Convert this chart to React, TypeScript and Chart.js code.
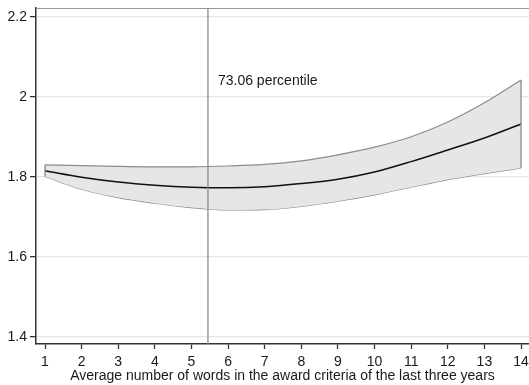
import React, { useEffect, useRef } from "react";
import { Chart, registerables } from "chart.js";

Chart.register(...registerables);

const xValues = [1, 2, 3, 4, 5, 6, 7, 8, 9, 10, 11, 12, 13, 14];
const meanValues = [1.815, 1.799, 1.787, 1.779, 1.774, 1.7725, 1.775, 1.783, 1.794, 1.812, 1.838, 1.867, 1.897, 1.932];
const upperValues = [1.83, 1.828, 1.826, 1.825, 1.825, 1.827, 1.831, 1.84, 1.855, 1.874, 1.9, 1.937, 1.985, 2.042];
const lowerValues = [1.801, 1.769, 1.748, 1.734, 1.723, 1.717, 1.718, 1.726, 1.739, 1.755, 1.774, 1.793, 1.808, 1.822];
const yTicks = [1.4, 1.6, 1.8, 2, 2.2];
const cutoff = 5.45;
const cutoffLabel = "73.06 percentile";
const xTitle = "Average number of words in the award criteria of the last three years";

const FONT = "'Liberation Sans', Arial, sans-serif";

export default function App() {
  const ref = useRef<HTMLCanvasElement | null>(null);
  useEffect(() => {
    if (!ref.current) return;
    const pts = (ys: number[]) => xValues.map((x, i) => ({ x, y: ys[i] }));
    const overlay = {
      id: "overlay",
      afterDatasetsDraw(chart: any) {
        const { ctx, chartArea, scales } = chart;
        const xs = scales.x;
        const ys = scales.y;
        ctx.save();
        // band end edges
        ctx.strokeStyle = "#8c8c8c";
        ctx.lineWidth = 1.3;
        const ends = [0, xValues.length - 1];
        ends.forEach((i) => {
          const ex = xs.getPixelForValue(xValues[i]);
          ctx.beginPath();
          ctx.moveTo(ex, ys.getPixelForValue(lowerValues[i]));
          ctx.lineTo(ex, ys.getPixelForValue(upperValues[i]));
          ctx.stroke();
        });
        // top frame line
        ctx.strokeStyle = "#9a9a9a";
        ctx.lineWidth = 1;
        ctx.beginPath();
        ctx.moveTo(chartArea.left, chartArea.top + 0.5);
        ctx.lineTo(chartArea.right, chartArea.top + 0.5);
        ctx.stroke();
        // cutoff line
        const px = xs.getPixelForValue(cutoff);
        ctx.strokeStyle = "#8a8a8a";
        ctx.lineWidth = 1.3;
        ctx.beginPath();
        ctx.moveTo(px, chartArea.top);
        ctx.lineTo(px, chartArea.bottom);
        ctx.stroke();
        ctx.fillStyle = "#1a1a1a";
        ctx.font = `14px ${FONT}`;
        ctx.textBaseline = "middle";
        ctx.textAlign = "left";
        ctx.fillText(cutoffLabel, px + 10, ys.getPixelForValue(2.04));
        ctx.restore();
      },
    };
    const chart = new Chart(ref.current, {
      type: "scatter",
      data: {
        datasets: [
          {
            label: "mean",
            data: pts(meanValues),
            showLine: true,
            borderColor: "#111111",
            borderWidth: 1.5,
            pointRadius: 0,
            cubicInterpolationMode: "monotone",
            fill: false,
            order: 0,
          },
          {
            label: "upper",
            data: pts(upperValues),
            showLine: true,
            borderWidth: 1.2,
            borderColor: "#8c8c8c",
            backgroundColor: "#e6e6e6",
            pointRadius: 0,
            cubicInterpolationMode: "monotone",
            fill: "+1",
            order: 2,
          },
          {
            label: "lower",
            data: pts(lowerValues),
            showLine: true,
            borderWidth: 1.2,
            borderColor: "#8c8c8c",
            pointRadius: 0,
            cubicInterpolationMode: "monotone",
            fill: false,
            order: 3,
          },
        ],
      },
      options: {
        animation: false,
        responsive: false,
        maintainAspectRatio: false,
        layout: { padding: { top: 8, right: 0, left: 0, bottom: 0 } },
        plugins: {
          legend: { display: false },
          tooltip: { enabled: false },
        },
        scales: {
          x: {
            type: "linear",
            min: 0.754,
            max: 14.218,
            afterBuildTicks: (s: any) => {
              s.ticks = xValues.map((v) => ({ value: v }));
            },
            afterFit: (s: any) => {
              s.height = 41;
              s.paddingRight = 0;
              s.paddingLeft = 0;
            },
            grid: {
              drawOnChartArea: false,
              drawTicks: true,
              tickLength: 5,
              tickColor: "#333333",
              tickWidth: 1.3,
            },
            border: { color: "#333333", width: 1.5 },
            ticks: {
              color: "#1a1a1a",
              font: { family: FONT, size: 14 },
              padding: 5,
              maxRotation: 0,
              autoSkip: false,
            },
            title: {
              display: true,
              text: xTitle,
              color: "#1a1a1a",
              font: { family: FONT, size: 14 },
              padding: { top: -7, bottom: 0 },
            },
          },
          y: {
            type: "linear",
            min: 1.382,
            max: 2.222,
            afterBuildTicks: (s: any) => {
              s.ticks = yTicks.map((v) => ({ value: v }));
            },
            afterFit: (s: any) => {
              s.width = 36;
              s.paddingTop = 0;
              s.paddingBottom = 0;
            },
            grid: {
              color: "#e6e6e6",
              lineWidth: 1.3,
              drawTicks: true,
              tickLength: 6,
              tickColor: "#333333",
              tickWidth: 1.3,
            },
            border: { color: "#333333", width: 1.5 },
            ticks: {
              color: "#1a1a1a",
              font: { family: FONT, size: 14 },
              padding: 3,
              callback: (v: any) => String(v),
            },
          },
        },
      },
      plugins: [overlay],
    });
    return () => chart.destroy();
  }, []);
  return (
    <div style={{ position: "fixed", left: 0, top: 0, width: 529, height: 385, background: "#ffffff" }}>
      <canvas ref={ref} width={529} height={385} style={{ display: "block" }} />
    </div>
  );
}
